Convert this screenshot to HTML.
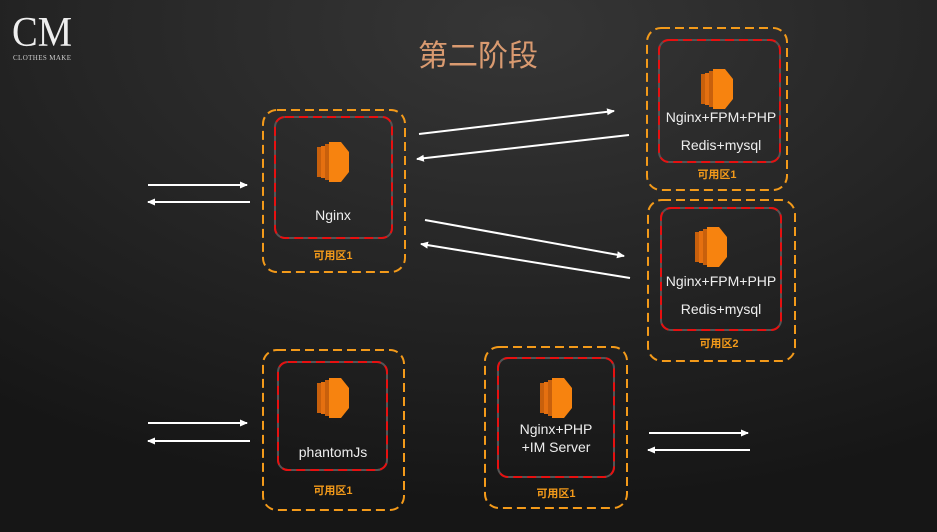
<!DOCTYPE html><html><head><meta charset="utf-8"><style>
body{margin:0;width:937px;height:532px;overflow:hidden;background:#1c1c1c}
svg{display:block}
text{font-family:"Liberation Sans","Noto Sans CJK SC",sans-serif}
</style></head><body>
<svg width="937" height="532" viewBox="0 0 937 532">
<defs>
<radialGradient id="bg" cx="0.55" cy="0.05" r="0.9">
<stop offset="0" stop-color="#363636"/><stop offset="1" stop-color="#161616"/></radialGradient>
<marker id="ah" markerWidth="8" markerHeight="8" refX="7" refY="4" orient="auto" markerUnits="userSpaceOnUse">
<path d="M0,0.5 L8,4 L0,7.5 z" fill="#fff"/></marker>
<g id="ic">
<rect x="-16" y="-15" width="4" height="30" fill="#c8600c"/>
<rect x="-12" y="-16" width="4" height="32" fill="#e57010"/>
<rect x="-8" y="-18" width="4" height="36" fill="#c8600c"/>
<path d="M-4,-20 L8,-20 L16,-10 L16,10 L8,20 L-4,20 z" fill="#f7830f"/>
</g>
</defs>
<rect width="937" height="532" fill="url(#bg)"/>
<text x="12" y="46" style="font-family:'Liberation Serif',serif;font-size:42px;font-weight:100" fill="#eee" textLength="60" lengthAdjust="spacingAndGlyphs">CM</text>
<text x="13" y="60" style="font-family:'Liberation Serif',serif;font-size:7px" fill="#ccc" textLength="58">CLOTHES MAKE</text>
<text x="478" y="66" font-size="30" fill="#d99a70" text-anchor="middle">第二阶段</text>
<g fill="none" stroke="#f39a1a" stroke-width="2" stroke-dasharray="9,5">
<rect x="263" y="110" width="142" height="162" rx="14"/>
<rect x="647" y="28" width="140" height="162" rx="14"/>
<rect x="648" y="200" width="147" height="161" rx="14"/>
<rect x="263" y="350" width="141" height="160" rx="14"/>
<rect x="485" y="347" width="142" height="161" rx="14"/>
</g>
<g fill="none" stroke-width="2">
<rect x="275" y="117" width="117" height="121" rx="10" stroke="#555"/>
<rect x="275" y="117" width="117" height="121" rx="10" stroke="#e81010" stroke-dasharray="9,5"/>
<rect x="659" y="40" width="121" height="122" rx="10" stroke="#555"/>
<rect x="659" y="40" width="121" height="122" rx="10" stroke="#e81010" stroke-dasharray="9,5"/>
<rect x="661" y="208" width="120" height="122" rx="10" stroke="#555"/>
<rect x="661" y="208" width="120" height="122" rx="10" stroke="#e81010" stroke-dasharray="9,5"/>
<rect x="278" y="362" width="109" height="108" rx="10" stroke="#555"/>
<rect x="278" y="362" width="109" height="108" rx="10" stroke="#e81010" stroke-dasharray="9,5"/>
<rect x="498" y="358" width="116" height="119" rx="10" stroke="#555"/>
<rect x="498" y="358" width="116" height="119" rx="10" stroke="#e81010" stroke-dasharray="9,5"/>
</g>
<use href="#ic" x="333" y="162"/><use href="#ic" x="717" y="89"/><use href="#ic" x="711" y="247"/>
<use href="#ic" x="333" y="398"/><use href="#ic" x="556" y="398"/>
<g fill="#eee" font-size="14" text-anchor="middle">
<text x="333" y="220">Nginx</text>
<text x="721" y="122">Nginx+FPM+PHP</text><text x="721" y="150">Redis+mysql</text>
<text x="721" y="286">Nginx+FPM+PHP</text><text x="721" y="314">Redis+mysql</text>
<text x="333" y="457">phantomJs</text>
<text x="556" y="434">Nginx+PHP</text><text x="556" y="452">+IM Server</text>
</g>
<g fill="#f39a1a" font-size="11" font-weight="bold" text-anchor="middle">
<text x="333" y="259">可用区1</text><text x="717" y="178">可用区1</text><text x="719" y="347">可用区2</text>
<text x="333" y="494">可用区1</text><text x="556" y="497">可用区1</text>
</g>
<g stroke="#fff" stroke-width="2" marker-end="url(#ah)">
<line x1="148" y1="185" x2="247" y2="185"/><line x1="250" y1="202" x2="148" y2="202"/>
<line x1="419" y1="134" x2="614" y2="111"/><line x1="629" y1="135" x2="417" y2="159"/>
<line x1="425" y1="220" x2="624" y2="256"/><line x1="630" y1="278" x2="421" y2="244"/>
<line x1="148" y1="423" x2="247" y2="423"/><line x1="250" y1="441" x2="148" y2="441"/>
<line x1="649" y1="433" x2="748" y2="433"/><line x1="750" y1="450" x2="648" y2="450"/>
</g>
</svg></body></html>
